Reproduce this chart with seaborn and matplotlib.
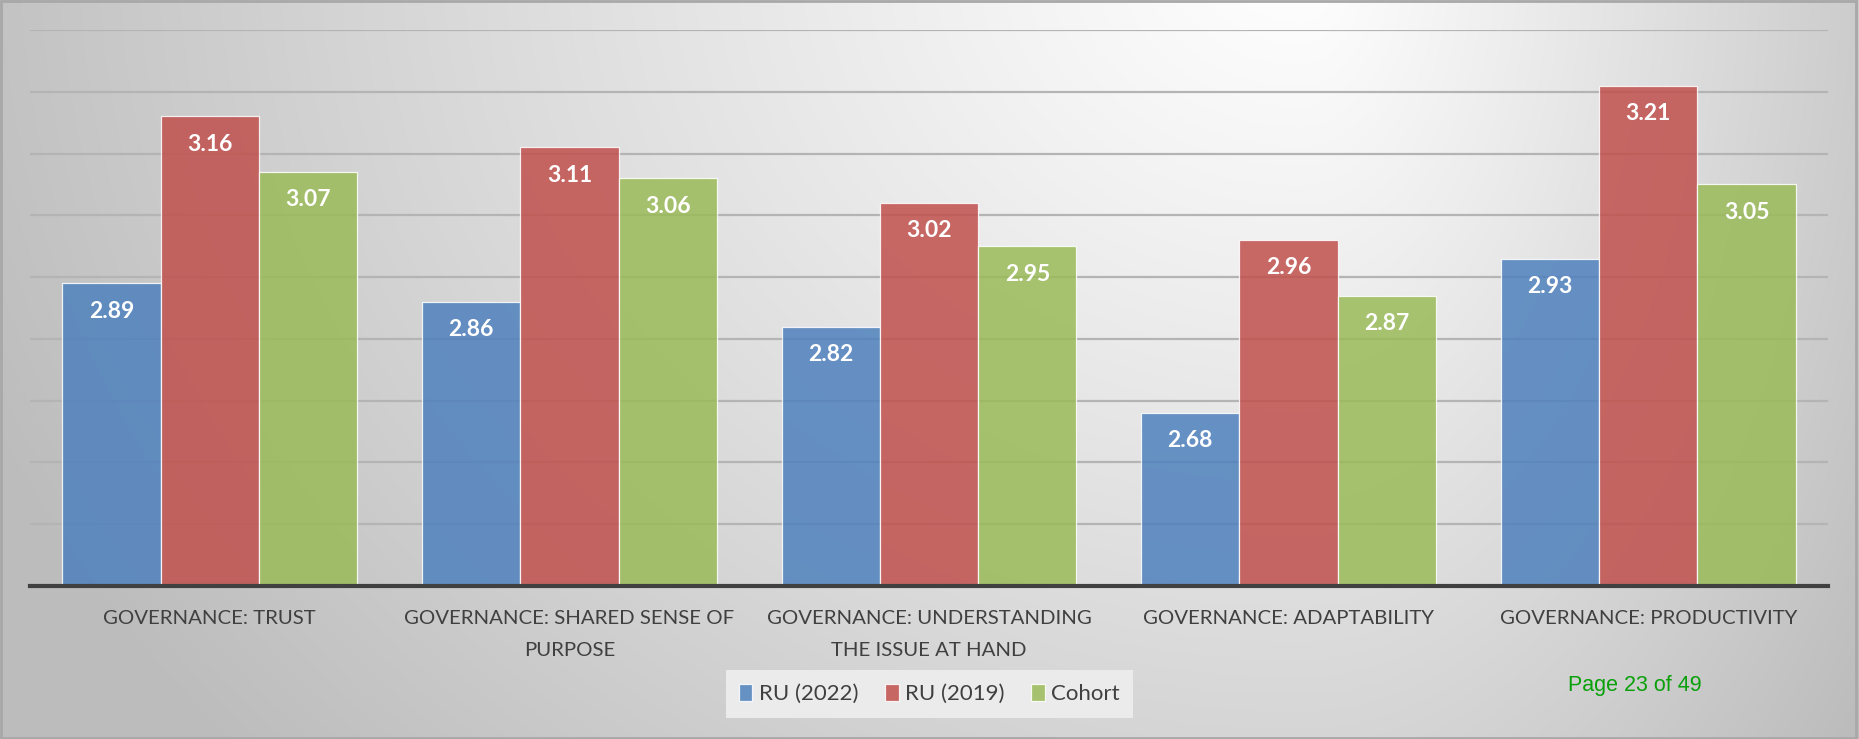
import textwrap
import numpy as np
import pandas as pd
import matplotlib
matplotlib.use("Agg")
import matplotlib.pyplot as plt
import seaborn as sns
from matplotlib.patches import Rectangle

# ---- data ----
categories = [
    "GOVERNANCE: TRUST",
    "GOVERNANCE: SHARED SENSE OF PURPOSE",
    "GOVERNANCE: UNDERSTANDING THE ISSUE AT HAND",
    "GOVERNANCE: ADAPTABILITY",
    "GOVERNANCE: PRODUCTIVITY",
]
series_names = ["RU (2022)", "RU (2019)", "Cohort"]
ru_2022 = [2.89, 2.86, 2.82, 2.68, 2.93]
ru_2019 = [3.16, 3.11, 3.02, 2.96, 3.21]
cohort = [3.07, 3.06, 2.95, 2.87, 3.05]
series_colors = ["#4F81BD", "#C0504D", "#9BBB59"]
page_note = "Page 23 of 49"

df = pd.DataFrame({
    "category": categories * 3,
    "series": np.repeat(series_names, len(categories)),
    "value": ru_2022 + ru_2019 + cohort,
})

sns.set_style("white")
plt.rcParams["font.family"] = ["Lato", "DejaVu Sans"]

W, H = 1859, 739
fig = plt.figure(figsize=(W / 100, H / 100), dpi=100)

# ---- background gradient ----
bg = fig.add_axes([0, 0, 1, 1], zorder=-10)
xx, yy = np.meshgrid(np.arange(W), np.arange(H))
cx, cy = 1300.0, -50.0
dx = np.where(xx < cx, (xx - cx) / 1300.0, (xx - cx) / 650.0)
dy = (yy - cy) / 1100.0
r = np.clip(np.sqrt(dx ** 2 + dy ** 2), 0, 1.1)
val = (255 - 60 * r ** 1.1) / 255.0
img = np.dstack([val, val, val])
bg.imshow(img, aspect="auto", extent=[0, 1, 0, 1], interpolation="bilinear")
bg.set_xlim(0, 1)
bg.set_ylim(0, 1)
bg.axis("off")
bg.add_patch(Rectangle((0.0005, 0.001), 0.998, 0.997, transform=bg.transAxes,
                       fill=False, edgecolor="#A8A8A8", lw=2))

# ---- main axes ----
left, right = 30 / W, 1828 / W
bottom, top = 1 - 586 / H, 1 - 30 / H
ax = fig.add_axes([left, bottom, right - left, top - bottom], zorder=1)
ax.patch.set_alpha(0)

sns.barplot(data=df, x="category", y="value", hue="series",
            palette=series_colors, width=0.82, alpha=0.85,
            edgecolor="white", linewidth=0.9, saturation=1,
            ax=ax, legend=True, errorbar=None)

ax.set_ylim(2.4, 3.3)
ax.set_yticks(np.arange(2.4, 3.31, 0.1))
ax.yaxis.grid(True, color="#B4B4B4", lw=1.6)
ax.set_axisbelow(True)
ax.set_yticklabels([])
ax.tick_params(axis="y", length=0)
ax.set_xlim(-0.5, len(categories) - 0.5)
ax.set_xlabel("")
ax.set_ylabel("")
for s in ["top", "left", "right"]:
    ax.spines[s].set_visible(False)
ax.spines["bottom"].set_color("#404040")
ax.spines["bottom"].set_linewidth(3)
ax.spines["bottom"].set_zorder(5)

ax.set_xticks(range(len(categories)))
ax.set_xticklabels([textwrap.fill(c, 27) for c in categories],
                   fontsize=14.7, color="#404040", linespacing=2.1)
ax.tick_params(axis="x", length=0, pad=17)

# ---- value labels ----
for cont in ax.containers:
    for patch in cont.patches:
        h = patch.get_height()
        ax.annotate(f"{h:.2f}", xy=(patch.get_x() + patch.get_width() / 2, h),
                    xytext=(0, -20), textcoords="offset points",
                    ha="center", va="center", color="white",
                    fontsize=16.5, fontweight="bold", zorder=6)

# ---- legend ----
handles, labels = ax.get_legend_handles_labels()
ax.legend_.remove()
leg = fig.legend(handles, labels, loc="center", bbox_to_anchor=(0.5, 1 - 694 / H),
                 ncol=3, frameon=True, fontsize=16, handlelength=0.6,
                 handleheight=0.85, handletextpad=0.3, columnspacing=1.2,
                 borderpad=0.6, fancybox=False)
leg.get_frame().set_facecolor("#EBEBEB")
leg.get_frame().set_edgecolor("none")
leg.get_frame().set_alpha(1)
for t in leg.get_texts():
    t.set_color("#404040")

fig.text(1635 / W, 1 - 685 / H, page_note, ha="center", va="center",
         color="#0AA00A", fontsize=15.5, family=["Liberation Sans", "DejaVu Sans"])

fig.savefig("out.png", dpi=100)
